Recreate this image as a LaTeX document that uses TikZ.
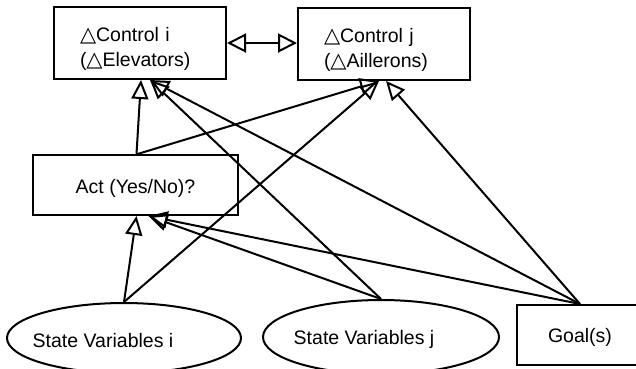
\documentclass[tikz,border=0pt]{standalone}
\usepackage{fontspec}
\setmainfont{Liberation Sans}
\newfontfamily\symf{DejaVu Sans}
\usetikzlibrary{shapes.geometric,arrows.meta,calc}
\newcommand{\tri}{{\symf\fontsize{21}{25}\selectfont △}}
\begin{document}
\begin{tikzpicture}[x=1pt,y=-1pt,
  every node/.style={font=\fontsize{19.5}{25}\selectfont},
  lw/.style={line width=2pt},
  ctrlbox/.style={draw, lw, rectangle, minimum height=72pt, text width=120pt, inner xsep=26pt, align=left},
  plainbox/.style={draw, lw, rectangle, inner sep=0pt},
  stateell/.style={draw, lw, ellipse, inner sep=0pt},
  conn/.style={lw, -{Triangle[open,length=19pt,width=17pt]}}]
\useasboundingbox (0,0) rectangle (636,368);
\clip (0,0) rectangle (636,368);
% boxes
\node[ctrlbox] (ci) at (140,43) {\rule{0pt}{27pt}\tri Control i\\(\tri Elevators)};
\node[ctrlbox] (cj) at (384,44) {\rule{0pt}{27pt}\tri Control j\\(\tri Aillerons)};
\node[plainbox, minimum width=205pt, minimum height=60pt] (act) at (135.5,185) {\rule{0pt}{22pt}Act (Yes/No)?};
\node[stateell, minimum width=234pt, minimum height=70pt] (si) at (124,338) {};
\node (tsi) at (103,341) {State Variables i};
\node[stateell, minimum width=236pt, minimum height=74pt] (sj) at (381,337) {};
\node (tsj) at (364,339) {State Variables j};
\node[plainbox, minimum width=126pt, minimum height=60pt] (goal) at (580,335) {\rule{0pt}{20pt}Goal(s)};
% connectors
\draw[conn] ([xshift=1pt]act.north) -- ([xshift=1pt]ci.south);
\draw[conn] ([xshift=2pt]act.north) -- ([xshift=-5pt]cj.south);
\draw[conn] (si.north) -- ([xshift=1pt]act.south);
\draw[conn] (si.north) -- ([xshift=-5pt]cj.south);
\draw[conn] (sj.north) -- ([xshift=10pt]ci.south);
\draw[conn] (sj.north) -- ([xshift=13pt]act.south);
\draw[conn] (goal.north) -- ([xshift=13pt]act.south);
\draw[conn] (goal.north) -- ([xshift=10pt]ci.south);
\draw[conn] (goal.north) -- ([xshift=2pt]cj.south);
\draw[lw, {Triangle[open,length=19pt,width=19pt]}-{Triangle[open,length=19pt,width=19pt]}] (ci.east) -- (ci.east -| cj.west);
\end{tikzpicture}
\end{document}
